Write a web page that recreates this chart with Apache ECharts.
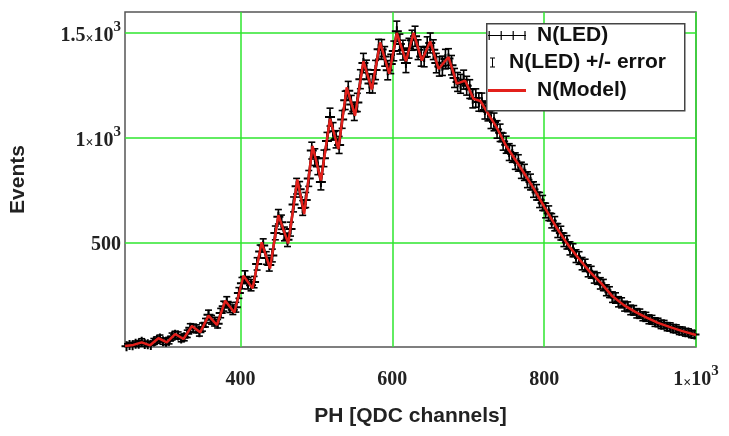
<!DOCTYPE html>
<html>
<head>
<meta charset="utf-8">
<script src="https://cdn.jsdelivr.net/npm/echarts@6/dist/echarts.min.js"></script>
<style>html,body{margin:0;padding:0;background:#fff;}#c{width:729px;height:436px;}</style>
</head>
<body>
<div id="c"></div>
<script>
// PH channel of each measured bin
const channels = [250,254,258,262,266,270,274,278,282,286,290,294,298,302,306,310,314,318,322,326,330,334,338,342,346,350,354,358,362,366,370,374,378,382,386,390,394,398,402,406,410,414,418,422,426,430,434,438,442,446,450,454,458,462,466,470,474,478,482,486,490,494,498,502,506,510,514,518,522,526,530,534,538,542,546,550,554,558,562,566,570,574,578,582,586,590,594,598,602,606,610,614,618,622,626,630,634,638,642,646,650,654,658,662,666,670,674,678,682,686,690,694,698,702,706,710,714,718,722,726,730,734,738,742,746,750,754,758,762,766,770,774,778,782,786,790,794,798,802,806,810,814,818,822,826,830,834,838,842,846,850,854,858,862,866,870,874,878,882,886,890,894,898,902,906,910,914,918,922,926,930,934,938,942,946,950,954,958,962,966,970,974,978,982,986,990,994,998];
// N(LED): measured events per bin
const ledCounts = [4,9,8,15,16,25,14,13,9,26,33,41,28,25,30,50,58,55,41,46,63,92,90,87,70,95,116,154,130,121,111,162,195,216,188,178,190,258,305,336,304,295,310,397,456,485,425,392,437,545,622,596,540,512,563,681,768,753,664,702,805,938,907,862,788,901,984,1098,1030,992,965,1087,1178,1224,1158,1125,1168,1279,1356,1324,1259,1258,1323,1422,1421,1388,1322,1352,1414,1508,1447,1418,1357,1427,1465,1484,1420,1388,1385,1434,1452,1420,1356,1340,1343,1375,1378,1346,1285,1266,1257,1277,1248,1232,1186,1189,1170,1169,1132,1123,1086,1075,1039,1023,981,966,931,922,888,879,844,834,799,788,752,739,702,688,652,639,603,589,556,544,512,500,471,462,434,425,398,390,364,357,333,327,304,296,271,262,238,234,216,211,195,192,177,175,161,159,147,144,132,130,119,117,108,107,97,96,88,87,78,77,70,69,62,60];
// N(Model)
const modelChannels = [248,259,270,281,292,303,314,325,336,347,358,369,380,392,404,416,428,439,450,463,475,484,495,506,518,529,540,551,562,573,584,596,606,618,628,639,650,661,674,685,696,707,716,727,738,750,768,785,800,815,830,845,860,875,890,905,920,935,950,965,980,1000];
const modelCounts = [5,10,22,8,42,22,62,38,100,70,150,105,221,165,340,280,500,375,630,495,800,635,960,795,1090,945,1240,1105,1365,1230,1455,1305,1500,1365,1500,1368,1460,1328,1385,1258,1272,1185,1175,1110,1045,960,862,765,670,578,495,425,360,305,242,200,168,140,115,96,78,57];
// axis ticks
const xTicks = [400, 600, 800, 1000];
const yTicks = [500, 1000, 1500];

const ledData = channels.map((c, i) => [c, ledCounts[i]]);
const errData = channels.map((c, i) => [c, ledCounts[i], Math.sqrt(ledCounts[i])]);
const modelData = modelChannels.map((c, i) => [c, modelCounts[i]]);

function sciLabel(v) {
  if (v >= 1000) {
    const m = v / 1000;
    return '{n|' + m + '}{t|×}{n|10}{s|3}';
  }
  return '{n|' + v + '}';
}
const richStyle = {
  n: { fontFamily: 'Liberation Serif', fontWeight: 'bold', fontSize: 20, color: '#222', padding: [6, 0, 0, 0], verticalAlign: 'bottom' },
  t: { fontFamily: 'Liberation Serif', fontWeight: 'bold', fontSize: 14, color: '#222', padding: [6, 0, 0, 0], verticalAlign: 'bottom' },
  s: { fontFamily: 'Liberation Serif', fontWeight: 'bold', fontSize: 15, color: '#222', verticalAlign: 'top' }
};

const green = '#2ee62e';
const chart = echarts.init(document.getElementById('c'), null, { renderer: 'canvas' });
const legendText = { fontFamily: 'Liberation Sans', fontWeight: 'bold', fontSize: 21, color: '#111' };
chart.setOption({
  animation: false,
  backgroundColor: '#fff',
  grid: { left: 124, right: 33, top: 12, bottom: 89, show: true, borderColor: '#555', borderWidth: 1.5, backgroundColor: 'transparent' },
  xAxis: {
    type: 'value', min: 248, max: 1000,
    name: 'PH [QDC channels]', nameLocation: 'middle', nameGap: 59,
    nameTextStyle: { fontFamily: 'Liberation Sans', fontWeight: 'bold', fontSize: 21, color: '#222' },
    axisLine: { show: false },
    axisTick: { show: false, customValues: xTicks },
    axisLabel: { customValues: xTicks, margin: 17, formatter: sciLabel, rich: richStyle },
    splitLine: { show: true, lineStyle: { color: green, width: 1.5 } }
  },
  yAxis: {
    type: 'value', min: 0, max: 1600,
    name: 'Events', nameLocation: 'middle', nameGap: 96, nameRotate: 90,
    nameTextStyle: { fontFamily: 'Liberation Sans', fontWeight: 'bold', fontSize: 21, color: '#222' },
    axisLine: { show: false },
    axisTick: { show: false, customValues: yTicks },
    axisLabel: { customValues: yTicks, margin: 4, formatter: sciLabel, rich: richStyle },
    splitLine: { show: true, lineStyle: { color: green, width: 1.5 } }
  },
  legend: [
    { left: 488, top: 25, padding: 0, z: 110, selectedMode: false, itemWidth: 44, itemHeight: 10, itemGap: 0,
      textStyle: legendText, itemStyle: { borderWidth: 0 },
      data: [{ name: 'N(LED)', icon: 'path://M0,4.4h38v1.2h-38z M0.6,0.5h1.2v9h-1.2z M12.6,0.5h1.2v9h-1.2z M24.6,0.5h1.2v9h-1.2z M36.4,0.5h1.2v9h-1.2z M43.9,0h0.1v0.1h-0.1z M43.9,9.9h0.1v0.1h-0.1z' }] },
    { left: 490, top: 52, padding: 0, z: 110, selectedMode: false, itemWidth: 14, itemHeight: 10, itemGap: 0,
      textStyle: legendText, itemStyle: { borderWidth: 0 },
      data: [{ name: 'N(LED) +/- error', icon: 'path://M0,0h5v1h-5z M2,0h1v10h-1z M0,9h5v1h-5z M13.9,0h0.1v0.1h-0.1z' }] },
    { left: 488, top: 80, padding: 0, z: 110, selectedMode: false, itemWidth: 44, itemHeight: 10, itemGap: 0,
      textStyle: legendText, itemStyle: { borderWidth: 0 },
      data: [{ name: 'N(Model)', icon: 'path://M0,3.5h38v3h-38z M43.9,0h0.1v0.1h-0.1z M43.9,9.9h0.1v0.1h-0.1z' }] }
  ],
  graphic: [{
    type: 'rect', left: 486, top: 23, z: 100,
    shape: { width: 198, height: 87 },
    style: { fill: '#fff', stroke: '#444', lineWidth: 1.5 }
  }],
  series: [
    {
      name: 'N(LED) +/- error', type: 'custom', z: 2,
      itemStyle: { color: '#000' },
      encode: { x: 0, y: 1 },
      clip: true,
      data: errData,
      renderItem: function (params, api) {
        const x = api.value(0), y = api.value(1), e = api.value(2);
        const top = api.coord([x, y + e]);
        const bot = api.coord([x, y - e]);
        const hw = 3.5;
        const st = { stroke: '#000', lineWidth: 1.6 };
        return { type: 'group', children: [
          { type: 'line', shape: { x1: top[0], y1: top[1] - 2, x2: bot[0], y2: bot[1] + 2 }, style: st },
          { type: 'line', shape: { x1: top[0] - hw, y1: top[1] - 2, x2: top[0] + hw, y2: top[1] - 2 }, style: st },
          { type: 'line', shape: { x1: bot[0] - hw, y1: bot[1] + 2, x2: bot[0] + hw, y2: bot[1] + 2 }, style: st }
        ] };
      }
    },
    {
      name: 'N(LED)', type: 'line', z: 3,
      data: ledData,
      symbol: 'path://M0,4h10v2h-10z M4,0h2v10h-2z',
      symbolSize: 10, showSymbol: true,
      itemStyle: { color: '#000', borderWidth: 0 },
      lineStyle: { color: '#000', width: 2.5 },
      clip: true
    },
    {
      name: 'N(Model)', type: 'line', z: 5,
      data: modelData,
      symbol: 'none', smooth: false,
      itemStyle: { color: '#e3201b' },
      lineStyle: { color: '#e3201b', width: 2.5 },
      clip: true
    }
  ]
});
</script>
</body>
</html>
